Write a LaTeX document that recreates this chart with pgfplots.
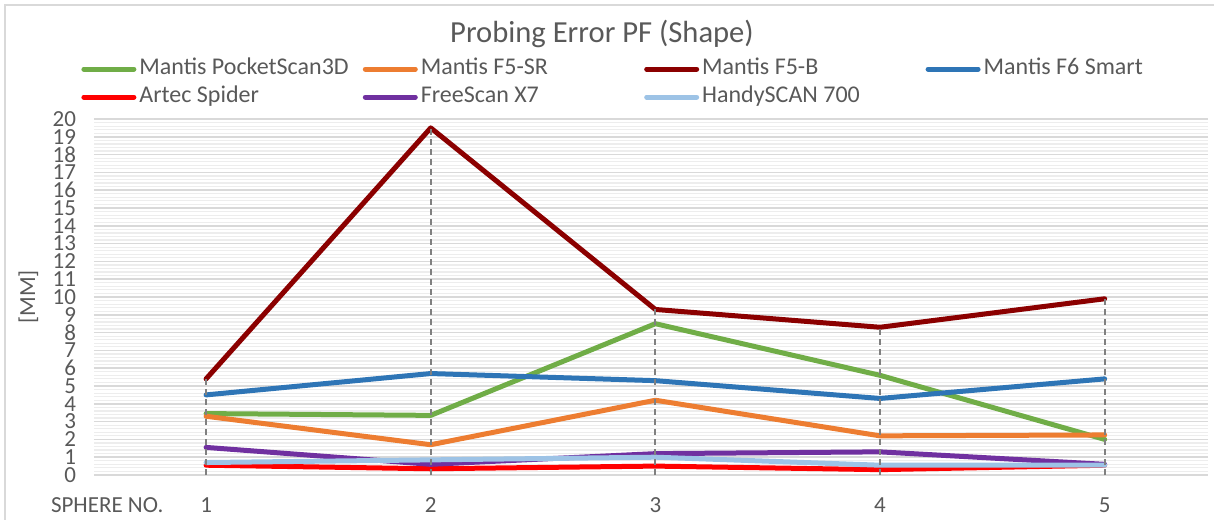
\documentclass[border=0pt]{standalone}
\usepackage{fontspec}
\setmainfont{Carlito}
\usepackage{pgfplots}
\pgfplotsset{compat=1.18}
\definecolor{cgreen}{HTML}{70AD47}
\definecolor{corange}{HTML}{ED7D31}
\definecolor{cdred}{HTML}{8B0000}
\definecolor{cblue}{HTML}{2E75B6}
\definecolor{cred}{HTML}{FF0000}
\definecolor{cpurple}{HTML}{7030A0}
\definecolor{clblue}{HTML}{9DC3E6}
\definecolor{gridmaj}{HTML}{D9D9D9}
\definecolor{gridmin}{HTML}{EDEDED}
\definecolor{labelgray}{HTML}{595959}
\definecolor{dropgray}{HTML}{808080}
\begin{document}
\begin{tikzpicture}
\useasboundingbox (-47pt,-22pt) rectangle (560pt,237.5pt);
\draw[color=gridmaj, line width=0.75pt] (-44.5pt,-30pt) rectangle (570pt,235pt);
\begin{axis}[
  at={(0pt,0pt)}, anchor=south west,
  scale only axis, width=557pt, height=178pt,
  xmin=0.501, xmax=5.46, ymin=0, ymax=20,
  axis line style={draw=none},
  tick style={draw=none}, major tick length=0pt, minor tick length=0pt,
  ytick={0,1,...,20}, minor y tick num=4,
  ymajorgrids, yminorgrids,
  major grid style={color=gridmaj, line width=0.75pt},
  minor grid style={color=gridmin, line width=0.6pt},
  xtick={1,2,3,4,5},
  extra x ticks={0.56}, extra x tick labels={SPHERE NO.},
  /pgf/number format/assume math mode=true,
  ticklabel style={font=\fontsize{11.5}{12}\selectfont, text=labelgray},
  yticklabel style={xshift=-5.5pt},
  xticklabel style={yshift=-8pt},
  ylabel={[MM]},
  ylabel style={at={(axis description cs:-0.059,0.5)}, anchor=center, font=\fontsize{11.5}{12}\selectfont, text=labelgray},
  legend columns=4,
  legend cell align=left,
  legend style={draw=none, fill=none, at={(0,1)}, anchor=south west, xshift=-9.5pt, yshift=2pt,
    font=\fontsize{12}{14}\selectfont, text=labelgray,
    nodes={text height=8pt, text depth=2.5pt, inner sep=1.5pt},
    row sep=0.5pt},
  legend image code/.code={\draw[#1, line width=2.5pt, line cap=round] (1.5pt,0pt) -- (26.5pt,0pt);},
  every axis plot/.append style={line width=2.5pt, line join=round, line cap=round, mark=none},
]
\addplot[cgreen] coordinates {(1,3.45) (2,3.35) (3,8.5) (4,5.6) (5,2.0)};
\addlegendentry{\makebox[110.2pt][l]{Mantis PocketScan3D}}
\addplot[corange] coordinates {(1,3.3) (2,1.7) (3,4.2) (4,2.2) (5,2.25)};
\addlegendentry{\makebox[110.2pt][l]{Mantis F5-SR}}
\addplot[cdred] coordinates {(1,5.4) (2,19.5) (3,9.3) (4,8.3) (5,9.9)};
\addlegendentry{\makebox[110.2pt][l]{Mantis F5-B}}
\addplot[cblue] coordinates {(1,4.5) (2,5.7) (3,5.3) (4,4.3) (5,5.4)};
\addlegendentry{\makebox[110.2pt][l]{Mantis F6 Smart}}
\addplot[cred] coordinates {(1,0.55) (2,0.35) (3,0.5) (4,0.3) (5,0.55)};
\addlegendentry{\makebox[110.2pt][l]{Artec Spider}}
\addplot[cpurple] coordinates {(1,1.55) (2,0.6) (3,1.2) (4,1.3) (5,0.6)};
\addlegendentry{\makebox[110.2pt][l]{FreeScan X7}}
\addplot[clblue] coordinates {(1,0.7) (2,0.85) (3,1.0) (4,0.55) (5,0.55)};
\addlegendentry{\makebox[110.2pt][l]{HandySCAN 700}}
\addplot[ycomb, draw=dropgray, line width=1pt, line cap=butt, dash pattern=on 3pt off 2pt, forget plot] coordinates {(1,5.4) (2,19.5) (3,9.3) (4,8.3) (5,9.9)};
\end{axis}
\node[font=\fontsize{15.3}{18}\selectfont, text=labelgray] at (254pt,220.5pt) {Probing Error PF (Shape)};
\end{tikzpicture}
\end{document}
